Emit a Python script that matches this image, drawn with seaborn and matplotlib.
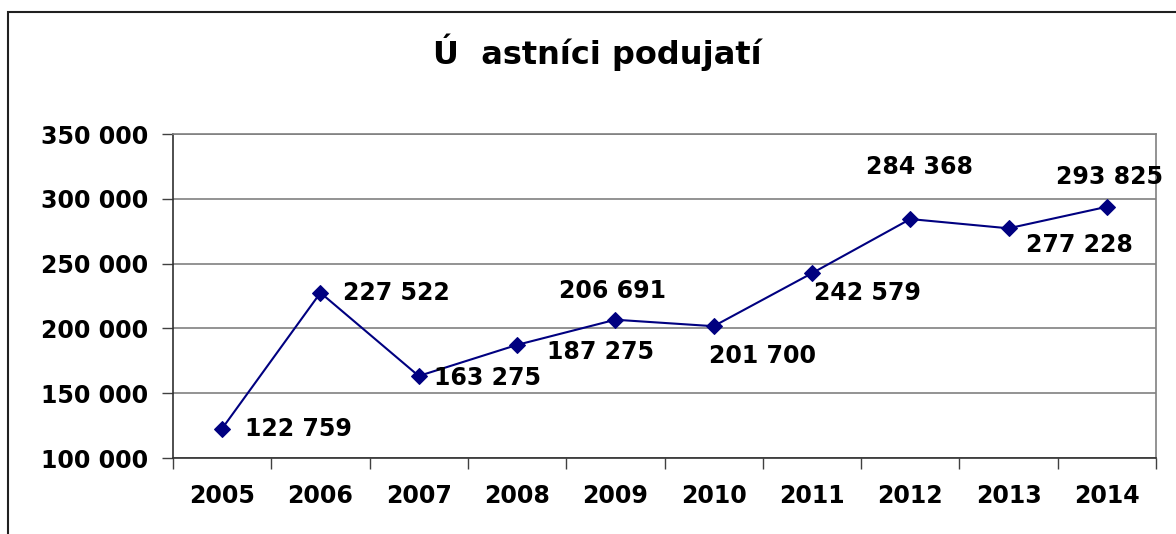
import matplotlib
matplotlib.use("Agg")
import matplotlib.pyplot as plt
import matplotlib.ticker as mticker
from matplotlib.patches import Rectangle
import pandas as pd
import seaborn as sns

years = ["2005", "2006", "2007", "2008", "2009", "2010", "2011", "2012", "2013", "2014"]
participants = [122759, 227522, 163275, 187275, 206691, 201700, 242579, 284368, 277228, 293825]
title = "Ú  astníci podujatí"

# label placement per point: (dx px, dy px, horizontal alignment)
label_pos = [(23, 0, "left"), (23, 0, "left"), (15, -2, "left"), (30, -7, "left"),
             (-3, 29, "center"), (-5, -30, "left"), (2, -20, "left"),
             (9, 52, "center"), (17, -17, "left"), (3, 30, "center")]


def fmt(v):
    return f"{v:,.0f}".replace(",", " ")


df = pd.DataFrame({"year": years, "participants": participants})

sns.set_theme(style="white")
plt.rcParams["font.family"] = ["DejaVu Sans"]
plt.rcParams["text.color"] = "black"
plt.rcParams["xtick.labelcolor"] = "black"
plt.rcParams["ytick.labelcolor"] = "black"
fig = plt.figure(figsize=(11.76, 5.34), dpi=100)
ax = fig.add_axes([173 / 1176, 1 - 458 / 534, (1156 - 173) / 1176, (458 - 134) / 534])

sns.lineplot(data=df, x="year", y="participants", ax=ax, sort=False, color="#000080",
             linewidth=1.5, marker="D", markersize=8, markeredgecolor="#000080")

for i, (v, (dx, dy, ha)) in enumerate(zip(participants, label_pos)):
    ax.annotate(fmt(v), (i, v), xytext=(dx, dy), textcoords="offset pixels",
                ha=ha, va="center", fontsize=17, fontweight="bold", color="black")

ax.set_ylim(100000, 350000)
ax.set_xlim(-0.5, len(years) - 0.5)
ax.yaxis.set_major_locator(mticker.MultipleLocator(50000))
ax.yaxis.set_major_formatter(mticker.FuncFormatter(lambda v, p: fmt(v)))
ax.set_xticks(range(len(years)))
ax.set_xticklabels(years)
ax.set_xticks([i - 0.5 for i in range(len(years) + 1)], minor=True)
ax.tick_params(axis="x", which="major", length=0, pad=19, labelsize=17, labelcolor="black")
ax.tick_params(axis="x", which="minor", length=8, width=1, color="#404040", direction="out", bottom=True)
ax.tick_params(axis="y", length=8, width=1, color="#404040", direction="out", left=True, pad=10,
               labelsize=17, labelcolor="black")
for lbl in ax.get_xticklabels() + ax.get_yticklabels():
    lbl.set_fontweight("bold")
ax.set_xlabel("")
ax.set_ylabel("")
ax.grid(axis="y", color="#808080", linewidth=1.2)
ax.set_axisbelow(True)
for side in ["top", "right"]:
    ax.spines[side].set_color("#808080")
    ax.spines[side].set_linewidth(1.2)
for side in ["left", "bottom"]:
    ax.spines[side].set_color("#303030")
    ax.spines[side].set_linewidth(1.2)

fig.text(597 / 1176, 1 - 52 / 534, title, ha="center", va="center", fontsize=23,
         fontweight="bold", color="black")
fig.patches.append(Rectangle((8 / 1176, -0.1), 1.2, 1.1 - 12 / 534, transform=fig.transFigure,
                             fill=False, edgecolor="#202020", linewidth=1.5))

fig.savefig("out.png", dpi=100, facecolor="white")
